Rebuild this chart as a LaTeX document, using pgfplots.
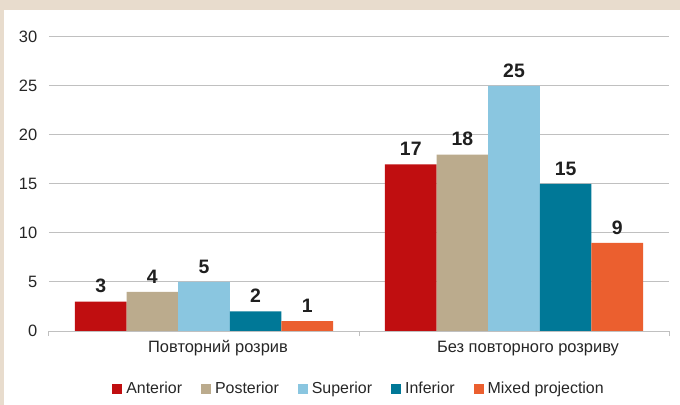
\documentclass[border=0pt]{standalone}
\usepackage{pgfplots}
\pgfplotsset{compat=1.18}
\usepackage{fontspec}
\setmainfont{Liberation Sans}
\definecolor{cA}{HTML}{C00E10}
\definecolor{cP}{HTML}{BBAB8D}
\definecolor{cS}{HTML}{8AC6E0}
\definecolor{cI}{HTML}{007897}
\definecolor{cM}{HTML}{EB5F2F}
\definecolor{beige}{HTML}{E8DCCD}
\definecolor{gridc}{HTML}{C0C0C0}
\begin{document}
\begin{tikzpicture}
\fill[beige] (0bp,0bp) rectangle (680bp,405bp);
\fill[white] (4bp,0bp) rectangle (680bp,395bp);
\path[use as bounding box] (0bp,0bp) rectangle (680bp,405bp);
\begin{axis}[
  at={(49bp,74bp)}, anchor=south west,
  scale only axis, width=620bp, height=294bp,
  xmin=-0.5, xmax=1.5, ymin=0, ymax=30,
  ytick={0,5,...,30},
  xtick={0,1},
  xticklabels={Повторний розрив, Без повторного розриву},
  minor xtick={-0.5,0.5,1.5},
  axis x line*=bottom, axis y line*=left,
  x axis line style={-, draw=gridc, line width=1bp},
  y axis line style={draw=none},
  ymajorgrids, grid style={gridc, line width=1bp},
  major x tick style={draw=none},
  minor x tick style={draw=gridc, line width=1bp},
  ytick style={draw=none},
  minor tick length=5bp, tick align=outside,
  /pgf/number format/assume math mode=true,
  ticklabel style={font=\fontsize{16.5}{18}\selectfont, text=black!85},
  xticklabel style={yshift=-2bp, xshift=14bp},
  yticklabel style={xshift=-4bp},
  ybar=0pt, bar width=0.1665,
  nodes near coords,
  nodes near coords style={font=\bfseries\fontsize{19.5}{21}\selectfont, text=black!88, yshift=5bp},
  legend columns=5,
  legend style={at={(0.5,-0.197)}, anchor=center, draw=none, fill=none,
    font=\fontsize{16}{18}\selectfont, text=black!85,
    /tikz/every even column/.append style={column sep=17bp}},
  legend image code/.code={\fill[#1] (0bp,-5bp) rectangle (10bp,5bp);\path (12bp,0bp);},
]
\addplot[fill=cA, draw=none] coordinates {(0,3) (1,17)};
\addplot[fill=cP, draw=none] coordinates {(0,4) (1,18)};
\addplot[fill=cS, draw=none] coordinates {(0,5) (1,25)};
\addplot[fill=cI, draw=none] coordinates {(0,2) (1,15)};
\addplot[fill=cM, draw=none] coordinates {(0,1) (1,9)};
\legend{Anterior, Posterior, Superior, Inferior, Mixed projection}
\end{axis}
\end{tikzpicture}
\end{document}
